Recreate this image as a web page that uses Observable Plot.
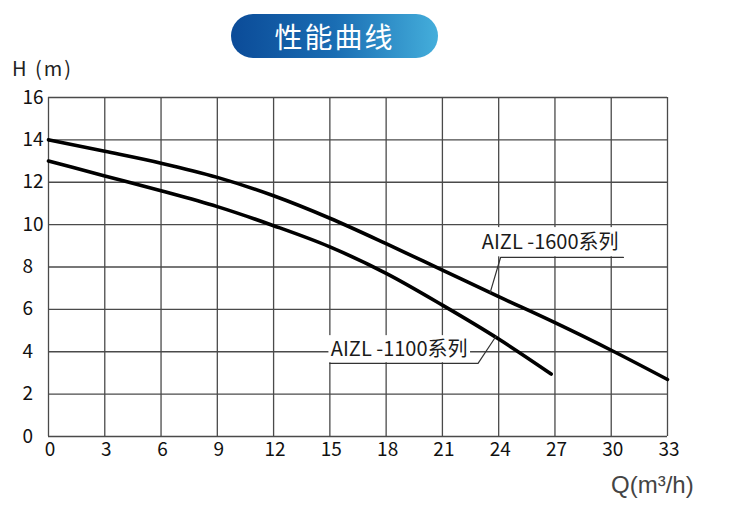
<!DOCTYPE html>
<html>
<head>
<meta charset="utf-8">
<script src="https://cdn.jsdelivr.net/npm/d3@7"></script>
<script src="https://cdn.jsdelivr.net/npm/@observablehq/plot@0.6"></script>
<style>
  html, body { margin: 0; padding: 0; background: #fff; overflow: hidden; }
  #wrap { position: relative; width: 754px; height: 529px; }
  #pill {
    position: absolute; left: 231px; top: 14px; width: 207px; height: 44px;
    border-radius: 22px;
    background: linear-gradient(90deg, #0b4b98 0%, #1a6db3 50%, #44aedb 100%);
    color: #fff; font-family: 'Noto Sans CJK SC', sans-serif; font-size: 28px;
    line-height: 44px; text-align: center; letter-spacing: 2px;
  }
  #ylab {
    position: absolute; left: 12px; top: 57px; font-family: 'Noto Sans CJK SC', sans-serif;
    font-size: 20px; color: #222; line-height: 22px; letter-spacing: 2px;
  }
  #xlab {
    position: absolute; left: 611px; top: 472px; font-family: 'Liberation Sans', Arial, sans-serif;
    font-size: 24px; color: #444; line-height: 26px;
  }
  svg { position: absolute; left: 0; top: 0; }
</style>
</head>
<body>
<div id="wrap">
  <div id="chart"></div>
  <div id="pill">性能曲线</div>
  <div id="ylab">H (m)</div>
  <div id="xlab">Q(m³/h)</div>
</div>
<script>
// Tick values
const xTicks = [0, 3, 6, 9, 12, 15, 18, 21, 24, 27, 30, 33];
const yTicks = [0, 2, 4, 6, 8, 10, 12, 14, 16];

// Series: AIZL-1600
const q1600 = [0, 3, 6, 9, 12, 15, 18, 21, 24, 27, 30, 33];
const h1600 = [14, 13.46, 12.9, 12.23, 11.36, 10.3, 9.1, 7.85, 6.6, 5.37, 4.07, 2.69];

// Series: AIZL-1100
const q1100 = [0, 3, 6, 9, 12, 15, 18, 21, 24, 26.8];
const h1100 = [13, 12.3, 11.6, 10.85, 9.95, 8.95, 7.7, 6.2, 4.6, 2.95];

// Annotation labels (data coordinates)
const labelNames = ["AIZL -1600系列", "AIZL -1100系列"];
const labelX = [23.1, 15.05];
const labelY = [9.17, 4.12];
const boxX1 = [23.0, 14.95];
const boxX2 = [30.7, 22.5];
const boxY1 = [8.48, 3.48];
const boxY2 = [9.86, 4.76];
// leader polylines: curve point -> elbow -> underline end
const leader1600 = [{x: 23.55, y: 6.8}, {x: 24.1, y: 8.45}, {x: 30.65, y: 8.45}];
const leader1100 = [{x: 23.85, y: 4.72}, {x: 22.9, y: 3.45}, {x: 15.0, y: 3.45}];

const s1600 = q1600.map((q, i) => ({q, h: h1600[i]}));
const s1100 = q1100.map((q, i) => ({q, h: h1100[i]}));
const boxes = labelNames.map((n, i) => ({n, x1: boxX1[i], x2: boxX2[i], y1: boxY1[i], y2: boxY2[i], x: labelX[i], y: labelY[i]}));

const gridColor = "#4a4a4a";

const chart = Plot.plot({
  width: 754,
  height: 529,
  marginLeft: 48,
  marginRight: 87,
  marginTop: 97,
  marginBottom: 93,
  x: {domain: [0, 33], axis: null},
  y: {domain: [0, 16], axis: null},
  style: {fontFamily: "'Noto Sans CJK SC', sans-serif", background: "transparent"},
  marks: [
    Plot.ruleX(xTicks, {x: d => d, stroke: gridColor, strokeWidth: 1.3}),
    Plot.ruleY(yTicks, {y: d => d, stroke: gridColor, strokeWidth: 1.3}),
    Plot.line(s1600, {x: "q", y: "h", curve: "monotone-x", stroke: "#000", strokeWidth: 3.6}),
    Plot.line(s1100, {x: "q", y: "h", curve: "monotone-x", stroke: "#000", strokeWidth: 3.6}),
    Plot.rect(boxes, {x1: "x1", x2: "x2", y1: "y1", y2: "y2", fill: "#fff"}),
    Plot.line(leader1600, {x: "x", y: "y", stroke: "#333", strokeWidth: 1.2}),
    Plot.line(leader1100, {x: "x", y: "y", stroke: "#333", strokeWidth: 1.2}),
    Plot.text(boxes, {x: "x", y: "y", text: "n", textAnchor: "start", fontSize: 20, fill: "#1a1a1a"}),
    Plot.text(xTicks, {x: d => d, frameAnchor: "bottom", dy: 19, text: d => String(d), fontSize: 19, fill: "#111", dx: 1.5}),
    Plot.text(yTicks, {y: d => d, frameAnchor: "left", dx: -26, textAnchor: "start", text: d => String(d), fontSize: 19, fill: "#111"})
  ]
});
document.getElementById("chart").appendChild(chart);
</script>
</body>
</html>
